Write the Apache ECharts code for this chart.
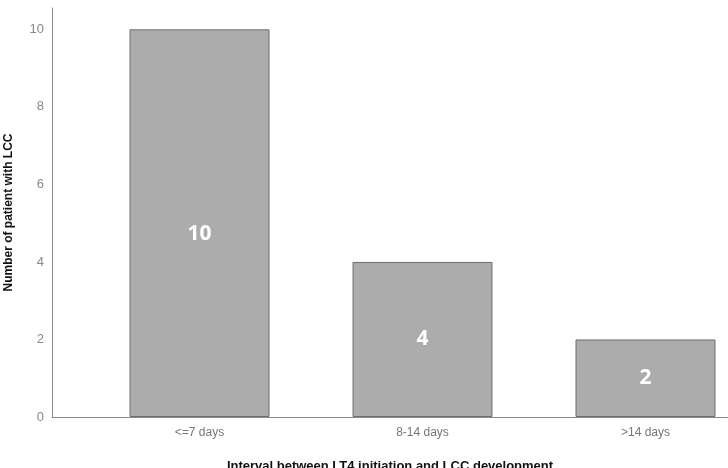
<!DOCTYPE html>
<html>
<head>
<meta charset="utf-8">
<script src="https://cdn.jsdelivr.net/npm/echarts@6/dist/echarts.min.js"></script>
<style>
  html, body { margin: 0; padding: 0; background: #fff; }
  #chart { width: 728px; height: 468px; }
</style>
</head>
<body>
<div id="chart"></div>
<script>
// data
const categories = ['<=7 days', '8-14 days', '>14 days'];
const patients = [10, 4, 2];

const yMin = 0;
const yMax = 10.55;
const yStep = 2;

let chart = echarts.init(document.getElementById('chart'));

// the label of the tall bar sits a bit under its middle in the original
const barData = patients.map((v, i) => ({
  value: v,
  label: i === 0 ? { offset: [0, 11] } : {}
}));

const option = {
  animation: false,
  textStyle: { fontFamily: 'Liberation Sans, Arial, sans-serif' },
  grid: [
    // frame grid: carries the axis lines, tick labels and titles
    { left: 52, width: 676, top: 8, height: 409, outerBoundsMode: 'none', containLabel: false },
    // bar grid: the category band is inset like the SPSS output
    { left: 88, width: 669, top: 8, height: 409, outerBoundsMode: 'none', containLabel: false }
  ],
  xAxis: [
    {
      gridIndex: 0,
      type: 'category',
      data: [''],
      axisLine: { show: true, lineStyle: { color: '#8a8a8a', width: 1 } },
      axisTick: { show: false },
      axisLabel: { show: false },
      name: 'Interval between LT4 initiation and LCC development',
      nameLocation: 'middle',
      nameGap: 43,
      nameTextStyle: { color: '#111', fontWeight: 'bold', fontSize: 13 }
    },
    {
      gridIndex: 1,
      type: 'category',
      data: categories,
      axisLine: { show: false },
      axisTick: { show: false },
      axisLabel: { color: '#777', fontSize: 12, margin: 10 }
    }
  ],
  yAxis: [
    {
      gridIndex: 0,
      type: 'value',
      min: yMin,
      max: yMax,
      interval: yStep,
      axisLine: { show: true, lineStyle: { color: '#8a8a8a', width: 1 } },
      axisTick: { show: false },
      splitLine: { show: false },
      axisLabel: { color: '#888', fontSize: 13, margin: 8, showMaxLabel: false },
      name: 'Number of patient with LCC',
      nameLocation: 'middle',
      nameGap: 37,
      nameTextStyle: { color: '#111', fontWeight: 'bold', fontSize: 12 }
    },
    {
      gridIndex: 1,
      type: 'value',
      min: yMin,
      max: yMax,
      show: false
    }
  ],
  series: [
    {
      type: 'bar',
      xAxisIndex: 1,
      yAxisIndex: 1,
      data: barData,
      barWidth: 140,
      itemStyle: { color: '#acacac', borderColor: '#6e6e6e', borderWidth: 1 },
      label: {
        show: true,
        position: 'inside',
        color: '#fff',
        fontSize: 21,
        fontWeight: 'bold',
        fontFamily: 'Open Sans, sans-serif'
      }
    }
  ]
};

chart.setOption(option);
</script>
</body>
</html>
